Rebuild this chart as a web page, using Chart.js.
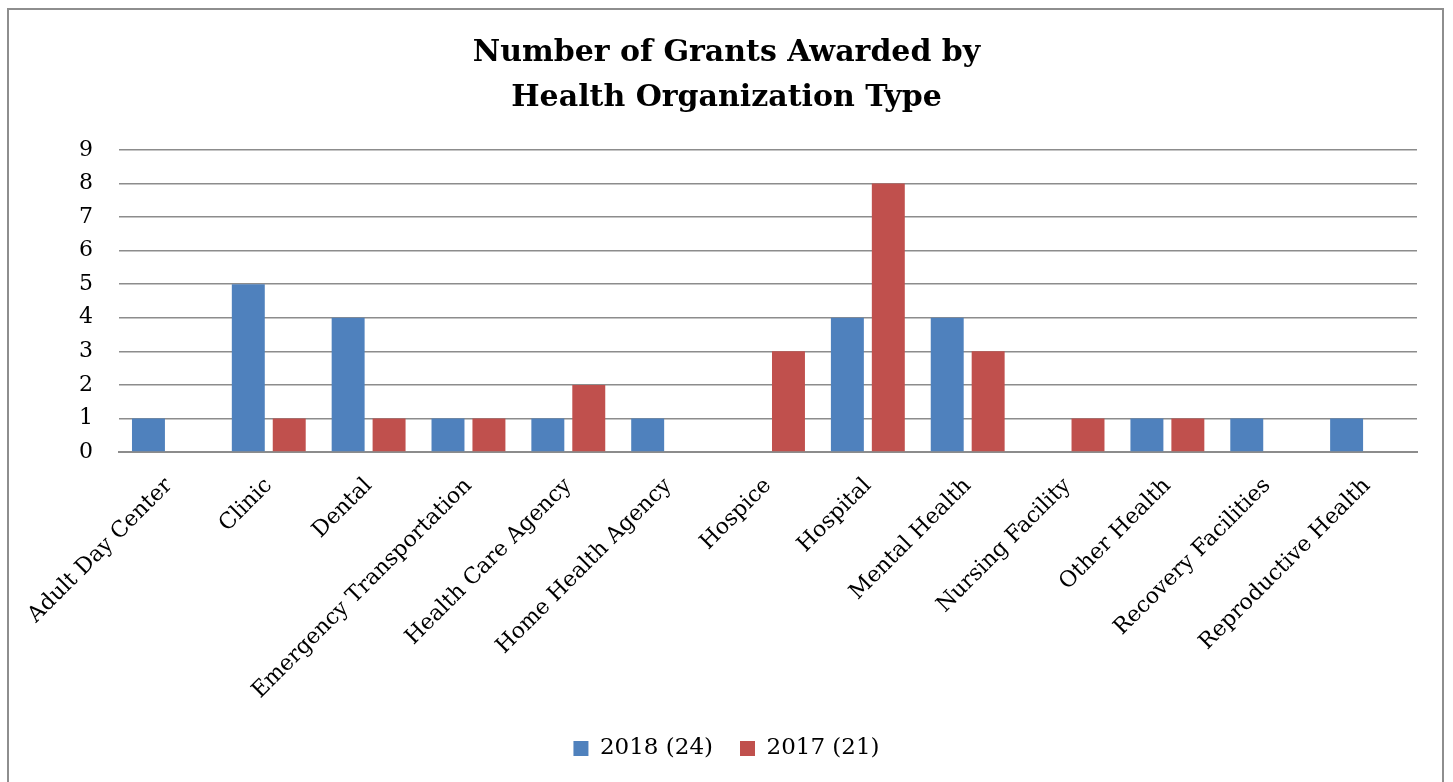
<!DOCTYPE html>
<html>
<head>
<meta charset="utf-8">
<script src="https://cdn.jsdelivr.net/npm/chart.js@4.4.1/dist/chart.umd.min.js"></script>
<style>
  html, body { margin: 0; padding: 0; background: #fff; }
  #wrap { position: relative; width: 1453px; height: 782px; overflow: hidden; }
  #frame { position: absolute; left: 7px; top: 8px; width: 1437px; height: 800px; border: 2px solid #8e8e8e; box-sizing: border-box; }
  canvas { position: absolute; left: 0; top: 0; }
</style>
</head>
<body>
<div id="wrap">
  <div id="frame"></div>
  <canvas id="c" width="1453" height="782"></canvas>
</div>
<script>
const categories = ["Adult Day Center", "Clinic", "Dental", "Emergency Transportation", "Health Care Agency", "Home Health Agency", "Hospice", "Hospital", "Mental Health", "Nursing Facility", "Other Health", "Recovery Facilities", "Reproductive Health"];
const series2018 = [1, 5, 4, 1, 1, 1, 0, 4, 4, 0, 1, 1, 1];
const series2017 = [0, 1, 1, 1, 2, 0, 3, 8, 3, 1, 1, 0, 0];
const seriesNames = ["2018 (24)", "2017 (21)"];
const titleLines = ["Number of Grants Awarded by", "Health Organization Type"];
const yMin = 0, yMax = 9, yStep = 1;

const FONT = "'DejaVu Serif', 'Liberation Serif', serif";

new Chart(document.getElementById('c'), {
  type: 'bar',
  data: {
    labels: categories,
    datasets: [
      { label: seriesNames[0], data: series2018, backgroundColor: '#4F81BD', categoryPercentage: 0.82, barPercentage: 0.805 },
      { label: seriesNames[1], data: series2017, backgroundColor: '#C0504D', categoryPercentage: 0.82, barPercentage: 0.805 }
    ]
  },
  options: {
    responsive: false,
    animation: false,
    layout: { padding: { left: 0, right: 0, top: 31, bottom: 12 } },
    plugins: {
      title: {
        display: true,
        text: titleLines,
        color: '#000',
        font: { family: FONT, size: 30, weight: 'bold', lineHeight: 1.5 },
        padding: { top: 0, bottom: 29 }
      },
      legend: {
        position: 'bottom',
        labels: {
          color: '#000',
          font: { family: FONT, size: 23 },
          boxWidth: 15, boxHeight: 15,
          padding: 27
        }
      },
      tooltip: { enabled: false }
    },
    scales: {
      x: {
        grid: { display: false, drawTicks: false },
        border: { display: true, color: '#8c8c8c', width: 2 },
        ticks: {
          color: '#000',
          font: { family: FONT, size: 22 },
          minRotation: 45, maxRotation: 45,
          padding: 21,
          labelOffset: 0,
          autoSkip: false
        },
        afterFit: (s) => { s.height = 258; }
      },
      y: {
        min: yMin, max: yMax,
        grid: { color: '#8c8c8c', lineWidth: 1.6, drawTicks: false },
        border: { display: false },
        ticks: {
          stepSize: yStep,
          color: '#000',
          font: { family: FONT, size: 22 },
          padding: 26
        },
        afterFit: (s) => { s.width = 119; }
      },
      yRight: {
        position: 'right',
        display: true,
        min: yMin, max: yMax,
        grid: { display: false, drawTicks: false },
        border: { display: false },
        ticks: { display: false },
        afterFit: (s) => { s.width = 36; }
      }
    }
  }
});
</script>
</body>
</html>
